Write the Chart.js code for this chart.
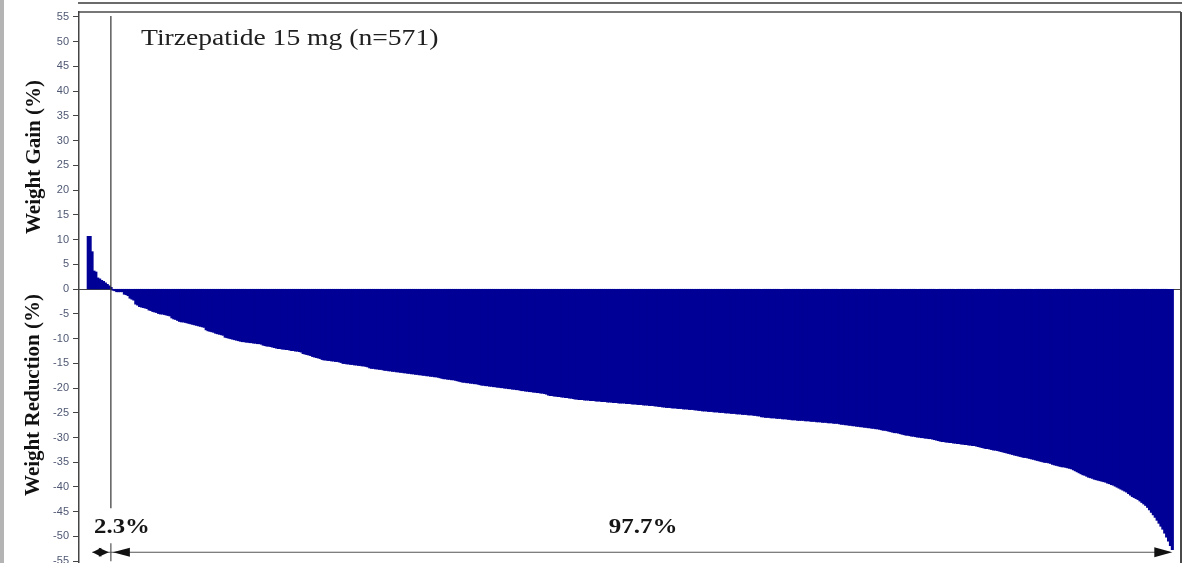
<!DOCTYPE html>
<html>
<head>
<meta charset="utf-8">
<title>Tirzepatide 15 mg – individual weight change</title>
<script src="https://cdn.jsdelivr.net/npm/chart.js@4.4.1/dist/chart.umd.min.js"></script>
<style>
  html, body { margin: 0; padding: 0; background: #ffffff; overflow: hidden; }
  #wrap { width: 1196px; height: 563px; overflow: hidden; }
  canvas { display: block; }
</style>
</head>
<body>
<div id="wrap"><canvas id="chart" width="1196" height="590"></canvas></div>
<script>
// Percent change in body weight per participant, sorted from largest gain to largest loss.
const weightGain = [10.6, 10.6, 7.5, 3.6, 3.4, 2.2, 2.0, 1.7, 1.5, 1.2, 0.9, 0.6, 0.3];

const weightReduction = [
  -0.2, -0.3, -0.5, -0.5, -0.5, -0.5,
  -1.0, -1.1, -1.3,
  -1.8, -2.0, -2.2,
  -3.0, -3.2,
  -3.5, -3.6, -3.7, -3.8, -3.9,
  -4.2, -4.3, -4.5, -4.6, -4.7,
  -4.9, -5.0, -5.0, -5.1, -5.2, -5.3, -5.4,
  -5.8, -6.0, -6.1, -6.3,
  -6.5, -6.6, -6.6, -6.7, -6.8,
  -6.9, -7.0, -7.1, -7.2, -7.3, -7.4, -7.5, -7.6, -7.7,
  -8.2, -8.4, -8.5, -8.6, -8.7,
  -8.9, -9.0, -9.1, -9.2, -9.3,
  -9.7, -9.8, -9.9, -10.0, -10.1, -10.2, -10.3, -10.4, -10.5,
  -10.6, -10.6, -10.7, -10.7, -10.8, -10.8, -10.9, -10.9, -11.0, -11.0, -11.1,
  -11.3, -11.4, -11.5, -11.5, -11.6, -11.7, -11.8,
  -11.9, -12.0, -12.0, -12.1, -12.1, -12.2, -12.2,
  -12.3, -12.4, -12.4, -12.5, -12.5, -12.6, -12.7,
  -13.0, -13.1, -13.2, -13.3, -13.4,
  -13.6, -13.7, -13.8, -13.9, -14.0,
  -14.2, -14.3, -14.3, -14.4, -14.4, -14.5, -14.5, -14.6, -14.6, -14.7, -14.8,
  -15.0, -15.0, -15.1, -15.1, -15.2, -15.2, -15.3, -15.3, -15.4, -15.4, -15.5, -15.5, -15.6, -15.7,
  -15.9, -16.0, -16.0, -16.1, -16.1, -16.2, -16.2, -16.3,
  -16.4, -16.4, -16.5, -16.5, -16.6, -16.6, -16.7, -16.7, -16.8, -16.8, -16.9, -16.9, -17.0, -17.0,
  -17.1, -17.1, -17.2, -17.2, -17.3, -17.3, -17.4, -17.4, -17.5, -17.5, -17.6, -17.6, -17.7, -17.7, -17.8, -17.9,
  -18.0, -18.1, -18.1, -18.2, -18.2, -18.3, -18.3, -18.4, -18.5, -18.6,
  -18.7, -18.8, -18.8, -18.9, -18.9, -19.0, -19.0, -19.1, -19.1, -19.2, -19.3,
  -19.4, -19.4, -19.5, -19.5, -19.6, -19.6, -19.7, -19.7, -19.8, -19.8, -19.9,
  -19.9, -20.0, -20.0, -20.1, -20.1, -20.2, -20.2, -20.3, -20.3, -20.4,
  -20.5, -20.5, -20.6, -20.6, -20.7, -20.7, -20.8, -20.8, -20.9, -20.9, -21.0, -21.0, -21.1, -21.2,
  -21.4, -21.5, -21.5, -21.6, -21.6, -21.7, -21.7, -21.8, -21.8, -21.9, -21.9, -22.0, -22.0, -22.1,
  -22.2, -22.2, -22.3, -22.3, -22.3, -22.4, -22.4, -22.4, -22.5, -22.5, -22.5, -22.6, -22.6, -22.6,
  -22.7, -22.7, -22.7, -22.8, -22.8, -22.8, -22.9, -22.9, -22.9, -23.0, -23.0,
  -23.0, -23.0, -23.1, -23.1, -23.1, -23.2, -23.2, -23.2, -23.3, -23.3, -23.3,
  -23.4, -23.4, -23.4, -23.5, -23.5, -23.5, -23.6, -23.6, -23.7, -23.7,
  -23.8, -23.8, -23.9, -23.9, -23.9, -24.0, -24.0, -24.0, -24.1, -24.1, -24.1,
  -24.2, -24.2, -24.2, -24.3, -24.3, -24.3, -24.4, -24.4, -24.5, -24.5,
  -24.6, -24.6, -24.6, -24.7, -24.7, -24.7, -24.8, -24.8, -24.8, -24.9, -24.9,
  -24.9, -25.0, -25.0, -25.0, -25.1, -25.1, -25.1, -25.2, -25.2, -25.2,
  -25.3, -25.3, -25.3, -25.4, -25.4, -25.4, -25.5, -25.5, -25.6, -25.6,
  -25.8, -25.8, -25.9, -25.9, -25.9, -26.0, -26.0, -26.0, -26.1, -26.1, -26.1, -26.2, -26.2, -26.2, -26.3, -26.3,
  -26.4, -26.4, -26.4, -26.5, -26.5, -26.5, -26.5, -26.6, -26.6, -26.6, -26.7, -26.7, -26.7,
  -26.8, -26.8, -26.8, -26.9, -26.9, -26.9, -27.0, -27.0, -27.0, -27.1, -27.1, -27.1, -27.2,
  -27.3, -27.3, -27.4, -27.4, -27.5, -27.5, -27.6, -27.6, -27.7, -27.7,
  -27.8, -27.8, -27.9, -27.9, -28.0, -28.0, -28.1, -28.1, -28.2, -28.2, -28.3,
  -28.4, -28.5, -28.5, -28.6, -28.7, -28.8, -28.9, -29.0, -29.0, -29.1, -29.2,
  -29.3, -29.4, -29.5, -29.5, -29.6, -29.7, -29.7, -29.8, -29.9, -29.9,
  -30.0, -30.0, -30.1, -30.1, -30.2, -30.2, -30.3, -30.4, -30.5, -30.6, -30.7,
  -30.8, -30.8, -30.9, -30.9, -31.0, -31.0, -31.1, -31.1, -31.2, -31.2,
  -31.3, -31.3, -31.4, -31.4, -31.5, -31.5, -31.6, -31.6, -31.7, -31.8, -31.9,
  -32.0, -32.1, -32.2, -32.2, -32.3, -32.4, -32.5, -32.5, -32.6, -32.7, -32.8, -32.9, -33.0, -33.1, -33.2, -33.3,
  -33.4, -33.5, -33.6, -33.7, -33.8, -33.9, -34.0, -34.0, -34.1, -34.2, -34.3, -34.4, -34.5, -34.6, -34.7, -34.8,
  -34.9, -35.0, -35.0, -35.1, -35.2,
  -35.4, -35.5, -35.6, -35.7, -35.8, -35.9, -35.9, -36.0, -36.1, -36.2, -36.3, -36.5, -36.7, -36.9,
  -37.1, -37.3, -37.5, -37.6, -37.8, -38.0, -38.1, -38.2, -38.4, -38.5, -38.6, -38.7,
  -38.8, -38.9, -39.0, -39.2, -39.3, -39.5, -39.6, -39.8, -40.0, -40.2, -40.4,
  -40.6, -40.8, -41.0, -41.3, -41.6,
  -41.9, -42.1, -42.3, -42.5, -42.8, -43.1, -43.4, -43.7, -44.1,
  -44.6, -45.1, -45.6, -46.1, -46.7,
  -47.3, -47.9, -48.5,
  -49.3, -50.1, -50.9,
  -51.8, -52.6
];

const panelTitle = 'Tirzepatide 15 mg (n=571)';
const gainAxisTitle = 'Weight Gain (%)';
const lossAxisTitle = 'Weight Reduction (%)';
const yTickStep = 5;

const changePct = weightGain.concat(weightReduction);
const total = changePct.length;
const pct = k => (100 * k / total).toFixed(1) + '%';
const gainShare = pct(weightGain.length);
const lossShare = pct(weightReduction.length);

const BAR_COLOR = '#000096';
const SERIF = '"Liberation Serif", "Times New Roman", serif';

function stretchedText(ctx, text, x, y, font, sx, align, color) {
  ctx.save();
  ctx.font = font;
  ctx.fillStyle = color;
  ctx.textAlign = align;
  ctx.textBaseline = 'alphabetic';
  ctx.translate(x, y);
  ctx.scale(sx, 1);
  ctx.fillText(text, 0, 0);
  ctx.restore();
}

function arrowHead(ctx, tipX, y, dir, len, half) {
  ctx.beginPath();
  ctx.moveTo(tipX, y);
  ctx.lineTo(tipX - dir * len, y - half);
  ctx.lineTo(tipX - dir * len, y + half);
  ctx.closePath();
  ctx.fill();
}

const decorations = {
  id: 'decorations',
  beforeDraw(chart) {
    const ctx = chart.ctx;
    ctx.save();
    ctx.fillStyle = '#ffffff';
    ctx.fillRect(0, 0, chart.width, chart.height);
    // grey page margin on the left
    ctx.fillStyle = '#b4b4b4';
    ctx.fillRect(0, 0, 4, chart.height);
    // frame edge of the panel above
    const a = chart.chartArea;
    ctx.strokeStyle = '#3a3a3a';
    ctx.lineWidth = 1.5;
    ctx.beginPath();
    ctx.moveTo(a.left - 1, 3);
    ctx.lineTo(a.right + 1, 3);
    ctx.stroke();
    ctx.restore();
  },
  beforeDatasetsDraw(chart) {
    const ctx = chart.ctx, a = chart.chartArea, y = chart.scales.y;
    ctx.save();
    ctx.strokeStyle = '#444';
    ctx.lineWidth = 1;
    const y0 = Math.round(y.getPixelForValue(0)) + 0.5;
    ctx.beginPath();
    ctx.moveTo(a.left, y0);
    ctx.lineTo(a.right, y0);
    ctx.stroke();
    ctx.restore();
  },
  afterDatasetsDraw(chart) {
    const ctx = chart.ctx, a = chart.chartArea;
    const xs = chart.scales.x, ys = chart.scales.y;
    ctx.save();

    // plot frame: top and right edges
    ctx.strokeStyle = '#4a4a4a';
    ctx.lineWidth = 1.5;
    ctx.beginPath();
    ctx.moveTo(a.left, a.top);
    ctx.lineTo(a.right, a.top);
    ctx.stroke();
    ctx.lineWidth = 2;
    ctx.beginPath();
    ctx.moveTo(a.right, a.top);
    ctx.lineTo(a.right, chart.height);
    ctx.stroke();

    // divider between gain and reduction
    const xDiv = xs.getPixelForValue(weightGain.length - 0.6);
    ctx.strokeStyle = '#333';
    ctx.lineWidth = 1.2;
    ctx.beginPath();
    ctx.moveTo(xDiv, ys.getPixelForValue(55.2));
    ctx.lineTo(xDiv, ys.getPixelForValue(-44.3));
    ctx.stroke();

    // span arrows
    const yArr = ys.getPixelForValue(-53.2);
    const xStart = xs.getPixelForValue(0);
    const xEnd = xs.getPixelForValue(total);
    ctx.strokeStyle = '#555';
    ctx.fillStyle = '#111';
    ctx.lineWidth = 1.2;
    ctx.beginPath();
    ctx.moveTo(xStart + 5, yArr);
    ctx.lineTo(xEnd - 4, yArr);
    ctx.stroke();
    ctx.beginPath();
    ctx.moveTo(xDiv, yArr - 9);
    ctx.lineTo(xDiv, yArr + 9);
    ctx.stroke();
    arrowHead(ctx, xStart + 5, yArr, -1, 9, 4.5);
    arrowHead(ctx, xDiv - 2, yArr, 1, 10, 4.5);
    arrowHead(ctx, xDiv + 2, yArr, -1, 17, 4.5);
    arrowHead(ctx, xEnd - 1, yArr, 1, 18, 5);

    // share labels
    const percFont = 'bold 21px ' + SERIF;
    stretchedText(ctx, gainShare, 122, 533, percFont, 1.18, 'center', '#151515');
    stretchedText(ctx, lossShare, (xDiv + xEnd) / 2 + 1, 533, percFont, 1.19, 'center', '#151515');

    // panel title
    stretchedText(ctx, panelTitle, 141, 45, '23px ' + SERIF, 1.2, 'left', '#202020');

    // axis titles
    ctx.fillStyle = '#111';
    ctx.font = 'bold 21px ' + SERIF;
    ctx.textAlign = 'center';
    ctx.textBaseline = 'middle';
    ctx.save();
    ctx.translate(35, 157);
    ctx.rotate(-Math.PI / 2);
    ctx.fillText(gainAxisTitle, 0, 0);
    ctx.restore();
    ctx.save();
    ctx.translate(34, 395);
    ctx.rotate(-Math.PI / 2);
    ctx.fillText(lossAxisTitle, 0, 0);
    ctx.restore();

    ctx.restore();
  }
};

new Chart(document.getElementById('chart'), {
  type: 'bar',
  data: {
    datasets: [{
      data: changePct.map((v, i) => ({ x: i + 0.5, y: v })),
      backgroundColor: BAR_COLOR,
      borderWidth: 0,
      barPercentage: 1,
      categoryPercentage: 1,
      inflateAmount: 0.6
    }]
  },
  options: {
    responsive: false,
    animation: false,
    devicePixelRatio: 1,
    layout: { padding: { left: 0, right: 15, top: 12, bottom: 14 } },
    plugins: { legend: { display: false }, tooltip: { enabled: false } },
    scales: {
      x: {
        type: 'linear',
        min: -4.36,
        max: total + 4.05,
        offset: false,
        display: false
      },
      y: {
        min: -58,
        max: 56,
        ticks: {
          stepSize: yTickStep,
          includeBounds: false,
          padding: 4,
          color: '#4f5873',
          font: { family: '"Liberation Sans", Arial, sans-serif', size: 11 }
        },
        grid: { drawOnChartArea: false, drawTicks: true, tickLength: 6, color: '#444', lineWidth: 1 },
        border: { display: true, color: '#444', width: 1.5 },
        afterFit(scale) {
          scale.width = 79;
          scale.paddingTop = 0;
          scale.paddingBottom = 0;
        }
      }
    }
  },
  plugins: [decorations]
});
</script>
</body>
</html>
